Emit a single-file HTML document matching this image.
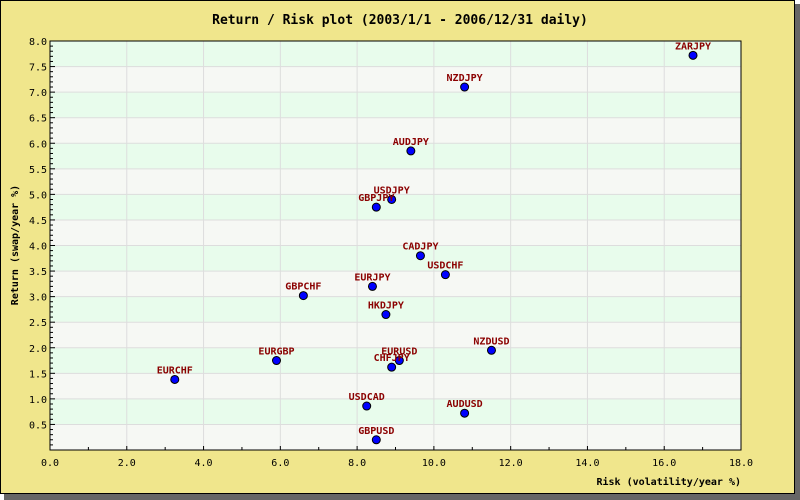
<!DOCTYPE html>
<html><head><meta charset="utf-8"><style>
body{margin:0;background:#fff}
svg{display:block;font-family:"DejaVu Sans Mono","Liberation Mono",monospace}
</style></head><body>
<svg id="c" width="800" height="500">
<rect x="4" y="4" width="796" height="496" fill="#666"/>
<rect x="0.5" y="0.5" width="794" height="493" fill="#f0e68c" stroke="#000"/>
<text x="400" y="24" text-anchor="middle" font-size="13" font-weight="bold">Return / Risk plot (2003/1/1 - 2006/12/31 daily)</text>
<g id="plot"></g>
<text x="741" y="485" text-anchor="end" font-size="10" font-weight="bold">Risk (volatility/year %)</text>
<text x="18" y="245" text-anchor="middle" font-size="10" font-weight="bold" transform="rotate(-90 18 245)">Return (swap/year %)</text>
</svg>
<script>
const names=["ZARJPY","NZDJPY","AUDJPY","USDJPY","GBPJPY","CADJPY","USDCHF","EURJPY","GBPCHF","HKDJPY","NZDUSD","EURGBP","EURUSD","CHFJPY","EURCHF","USDCAD","AUDUSD","GBPUSD"];
const risk=[16.75,10.8,9.4,8.9,8.5,9.65,10.3,8.4,6.6,8.75,11.5,5.9,9.1,8.9,3.25,8.25,10.8,8.5];
const ret=[7.72,7.1,5.85,4.9,4.75,3.8,3.43,3.2,3.02,2.65,1.95,1.75,1.75,1.62,1.38,0.86,0.72,0.2];
const xTicks=["0.0","2.0","4.0","6.0","8.0","10.0","12.0","14.0","16.0","18.0"];
const yTicks=["0.5","1.0","1.5","2.0","2.5","3.0","3.5","4.0","4.5","5.0","5.5","6.0","6.5","7.0","7.5","8.0"];
const L=50,R=741,T=41,B=450,XMAX=18,YMAX=8;
const X=v=>L+v/XMAX*(R-L), Y=v=>B-v/YMAX*(B-T);
const NS="http://www.w3.org/2000/svg", g=document.getElementById('plot');
function mk(t,a){const e=document.createElementNS(NS,t);for(const k in a)e.setAttribute(k,a[k]);g.appendChild(e);return e;}
for(let i=0;i<16;i++){const y0=i*0.5;
 const r=mk('rect',{x:L,y:Y(y0+0.5),width:R-L,height:Y(y0)-Y(y0+0.5),fill:(i%2==0)?'#f6f8f4':'#e8fcec'});
 
 }
for(let v=2;v<18;v+=2){const l=mk('line',{x1:X(v),x2:X(v),y1:T,y2:B,stroke:'#ddd'});
 
 }
yTicks.forEach(s=>{const v=+s;const l=mk('line',{x1:L,x2:R,y1:Y(v),y2:Y(v),stroke:'#ddd'});
 
 
 const t=mk('text',{x:L-3,y:Y(v)+4,'text-anchor':'end','font-size':'10'});t.textContent=s;
 
 });
for(let v=0.1;v<8;v+=0.1){mk('line',{x1:L,x2:L+(Math.abs(v*2-Math.round(v*2))<0.01?5:3),y1:Y(v),y2:Y(v),stroke:'#000'});}
xTicks.forEach(s=>{const v=+s;const t=mk('text',{x:X(v),y:B+16,'text-anchor':'middle','font-size':'10'});t.textContent=s;
 
 
 mk('line',{x1:X(v),x2:X(v),y1:B,y2:B-4,stroke:'#000'});
 if(v<18)mk('line',{x1:X(v+1),x2:X(v+1),y1:B,y2:B-3,stroke:'#000'});});
const fr=mk('rect',{x:L,y:T,width:R-L,height:B-T,fill:'none',stroke:'#000'});


names.forEach((n,i)=>{const c=mk('circle',{cx:X(risk[i]),cy:Y(ret[i]),r:4,fill:'#0000ff',stroke:'#000'});
 
 
 const t=mk('text',{x:X(risk[i]),y:Y(ret[i])-6,'text-anchor':'middle','font-size':'10','font-weight':'bold',fill:'#8b0000'});t.textContent=n;
 
 });
</script>
</body></html>
